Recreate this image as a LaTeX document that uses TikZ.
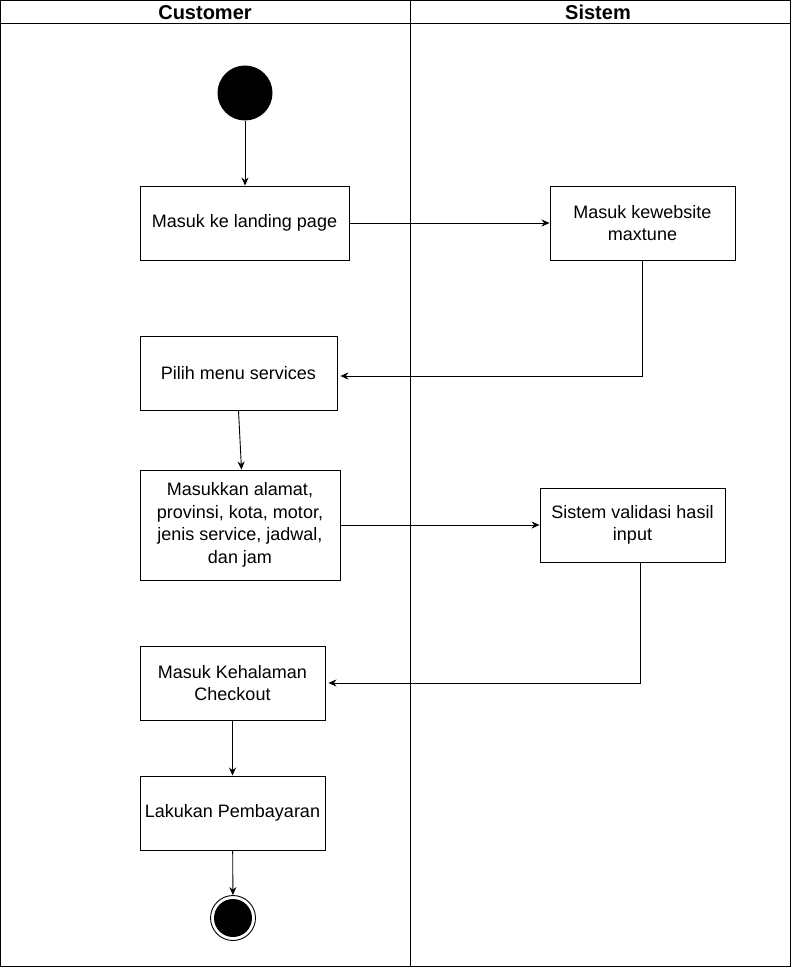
\documentclass[tikz,border=0pt]{standalone}
\usepackage{fontspec}
\setmainfont{Liberation Sans}
\usetikzlibrary{arrows.meta}
\begin{document}
\begin{tikzpicture}[x=1pt,y=-1pt,
  act/.style={draw,line width=0.9pt,fill=white,align=center,font=\fontsize{18}{22.5}\selectfont,inner sep=0pt},
  flow/.style={draw,line width=0.9pt,-{Stealth[length=8pt,width=7pt]}},
  lane/.style={draw,line width=0.9pt}]
\useasboundingbox (0,0) rectangle (791,968);
\fill[white] (0,0) rectangle (791,968);
% swimlanes
\draw[lane] (0.5,0.5) rectangle (790,966);
\draw[lane] (0.5,23) -- (790,23);
\draw[lane] (410,0.5) -- (410,966);
\node[font=\bfseries\fontsize{20}{22}\selectfont] (hc) at (205,12.5) {Customer};
\node[font=\bfseries\fontsize{20}{22}\selectfont] (hs) at (598,12.5) {Sistem};
% start
\node[circle,fill=black,minimum size=55pt,inner sep=0pt] (start) at (245,93) {};
% boxes
\node[act,minimum width=209pt,minimum height=74pt] (b1) at (244.5,223) {Masuk ke landing page};
\node[act,minimum width=185pt,minimum height=74pt] (b2) at (642.5,223) {Masuk kewebsite\\maxtune};
\node[act,minimum width=197pt,minimum height=74pt] (b3) at (238.5,373) {Pilih menu services};
\node[act,minimum width=200pt,minimum height=110pt] (b4) at (240,525) {Masukkan alamat,\\provinsi, kota, motor,\\jenis service, jadwal,\\dan jam};
\node[act,minimum width=185pt,minimum height=74pt] (b5) at (632.5,525) {Sistem validasi hasil\\input};
\node[act,minimum width=185pt,minimum height=74pt] (b6) at (232.5,683) {Masuk Kehalaman\\Checkout};
\node[act,minimum width=185pt,minimum height=74pt] (b7) at (232.5,813) {Lakukan Pembayaran};
% end
\node[circle,draw,line width=0.9pt,minimum size=45pt,inner sep=0pt] (end) at (233,918) {};
\fill (end.center) circle (19pt);
% connectors
\draw[flow] (start) -- (b1.north -| start);
\draw[flow] (b1) -- (b2);
\draw[flow] (b2.south) |- ([xshift=3pt,yshift=-3pt]b3.east);
\draw[flow] (b3.south) -- ([xshift=1.5pt]b4.north);
\draw[flow] (b4) -- (b5);
\draw[flow] ([xshift=7.5pt]b5.south) |- ([xshift=3pt]b6.east);
\draw[flow] (b6) -- (b7);
\draw[flow] (b7) -- (end);
\end{tikzpicture}
\end{document}
